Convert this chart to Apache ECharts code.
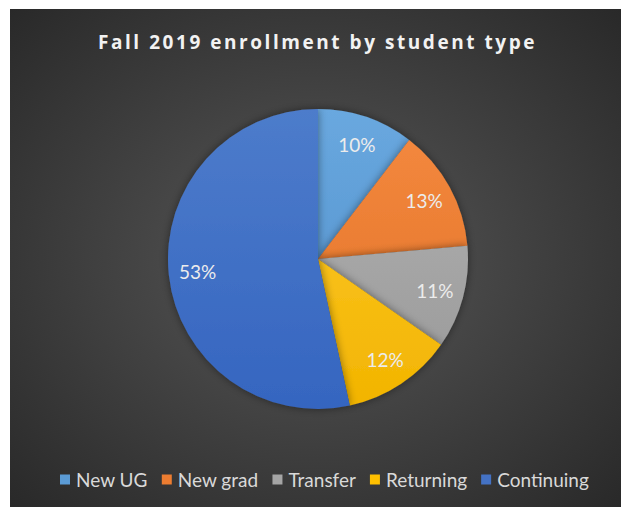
<!DOCTYPE html>
<html>
<head>
<meta charset="utf-8">
<script src="https://cdn.jsdelivr.net/npm/echarts@6/dist/echarts.min.js"></script>
<style>
html,body{margin:0;padding:0;background:#fff;width:621px;height:507px;overflow:hidden;}
#chart{position:absolute;left:10px;top:9px;width:611px;height:498px;}
</style>
</head>
<body>
<div id="chart"></div>
<script>
const titleText = 'Fall 2019 enrollment by student type';
const categories = ['New UG', 'New grad', 'Transfer', 'Returning', 'Continuing'];
const values = [10.4, 13.2, 11.1, 11.9, 53.4];
const colors = ['#5b9bd5', '#ed7d31', '#a5a5a5', '#ffc000', '#4472c4'];
const lightColors = ['#69a8df', '#f58a40', '#b3b3b3', '#ffcc30', '#4d7ccb'];
const darkColors = ['#4f8dc9', '#e07025', '#989898', '#f2b400', '#3565c0'];

const CX = 308, CY = 250, R = 150;

const pieData = categories.map((c, i) => ({
  name: c,
  value: values[i],
  itemStyle: {
    color: {
      type: 'linear', global: true, x: 0, y: CY - R, x2: 0, y2: CY + R,
      colorStops: [
        { offset: 0, color: lightColors[i] },
        { offset: 1, color: darkColors[i] }
      ]
    }
  }
}));
const labelData = categories.map((c, i) => ({ name: c, value: values[i] }));

const chart = echarts.init(document.getElementById('chart'), null, { renderer: 'svg' });
chart.setOption({
  backgroundColor: {
    type: 'radial', x: 0.5, y: 0.5, r: 0.75,
    colorStops: [
      { offset: 0, color: '#585858' },
      { offset: 1, color: '#262626' }
    ]
  },
  animation: false,
  title: {
    text: titleText,
    left: 'center',
    top: 18,
    textStyle: {
      color: '#f2f2f2',
      fontFamily: 'Open Sans',
      fontWeight: 'bold',
      fontSize: 19
    }
  },
  legend: {
    data: categories.map((c, i) => ({ name: c, itemStyle: { color: colors[i] } })),
    bottom: 13,
    left: 45,
    icon: 'rect',
    itemWidth: 10,
    itemHeight: 10,
    itemGap: 14,
    textStyle: {
      color: '#d9d9d9',
      fontFamily: 'Lato',
      fontSize: 19,
      padding: [0, 0, 0, 1]
    }
  },
  series: [
    {
      type: 'pie',
      center: [CX, CY],
      radius: R,
      startAngle: 90,
      clockwise: true,
      label: { show: false },
      labelLine: { show: false },
      itemStyle: {
        shadowBlur: 8,
        shadowColor: 'rgba(0,0,0,0.45)'
      },
      emphasis: { disabled: true },
      data: pieData
    },
    {
      type: 'pie',
      center: [CX, CY],
      radius: [86, R],
      startAngle: 90,
      clockwise: true,
      silent: true,
      itemStyle: { color: 'rgba(0,0,0,0)' },
      label: {
        show: true,
        position: 'inside',
        color: '#ececec',
        fontFamily: 'Lato',
        fontSize: 19,
        formatter: p => Math.round(p.percent) + '%'
      },
      labelLine: { show: false },
      emphasis: { disabled: true },
      data: labelData
    }
  ]
});

const TITLE_CENTER_X = 317.5; // page x of title centre in the reference
function spaceTitle() {
  const texts = document.querySelectorAll('#chart svg text');
  texts.forEach(t => {
    if (t.textContent === titleText) {
      t.setAttribute('letter-spacing', '2.55px');
      const r = t.getBoundingClientRect();
      const cur = r.left + r.width / 2;
      const x = parseFloat(t.getAttribute('x') || '0');
      t.setAttribute('x', String(x + (TITLE_CENTER_X - cur)));
    }
  });
}
chart.on('finished', spaceTitle);
setTimeout(spaceTitle, 50);
</script>
</body>
</html>
